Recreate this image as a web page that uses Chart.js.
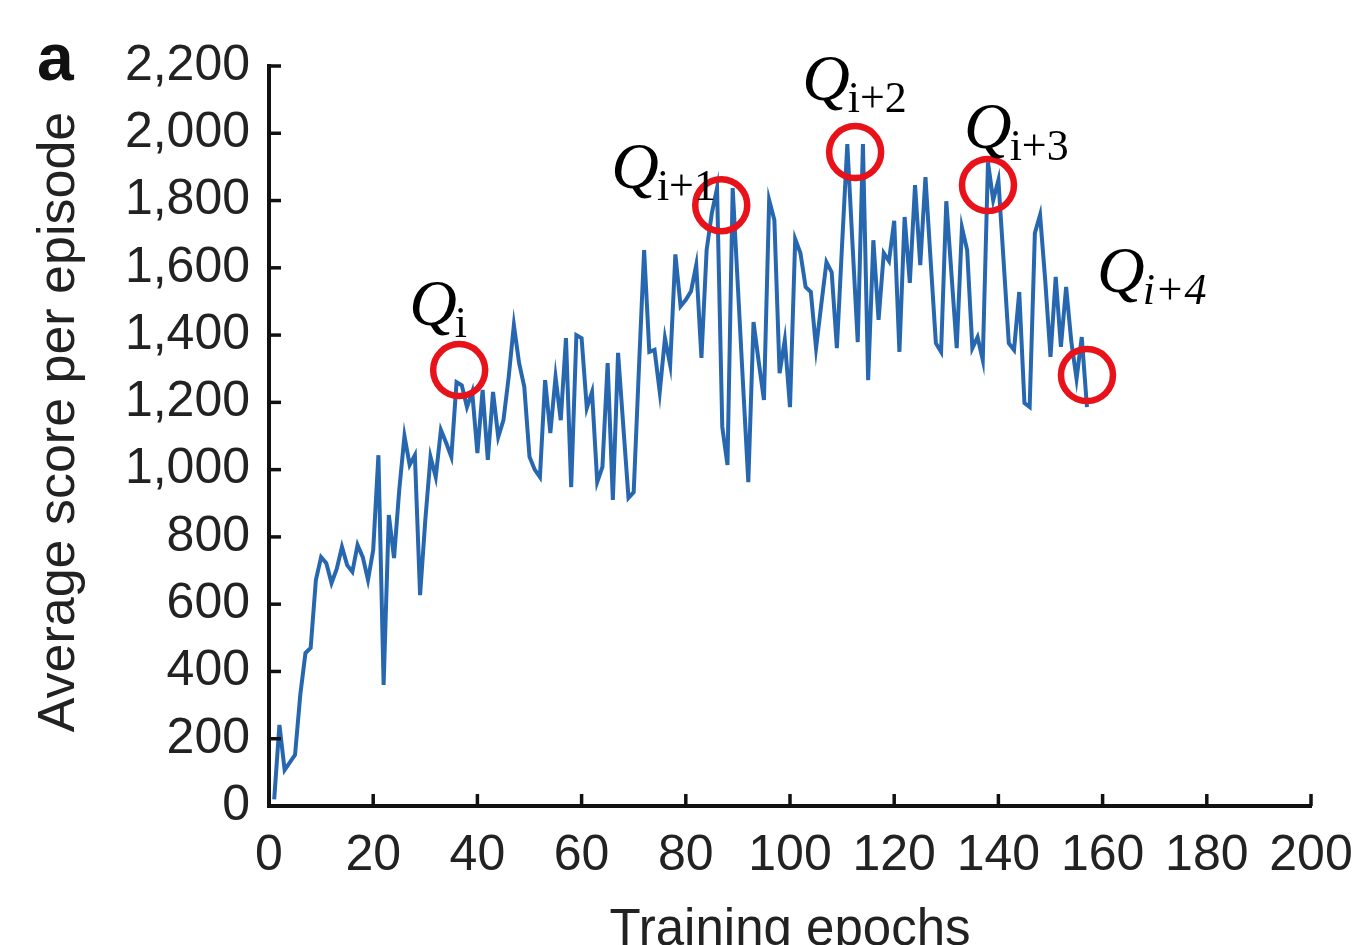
<!DOCTYPE html>
<html>
<head>
<meta charset="utf-8">
<script src="https://cdn.jsdelivr.net/npm/chart.js@4/dist/chart.umd.min.js"></script>
<style>
  html, body { margin: 0; padding: 0; background: #ffffff; }
  #wrap { position: relative; width: 1361px; height: 945px; }
</style>
</head>
<body>
<div id="wrap"><canvas id="c" width="1361" height="945"></canvas></div>
<script>
// ---- data ----
const scores = [
  20, 241, 107, 130, 152, 330, 455, 470, 672, 740,
  722, 663, 705, 770, 716, 696, 776, 740, 672, 761,
  1043, 360, 865, 737, 940, 1100, 1014, 1043, 627, 850,
  1038, 978, 1118, 1080, 1038, 1260, 1251, 1186, 1231, 1049,
  1237, 1029, 1231, 1097, 1147, 1275, 1430, 1317, 1246, 1038,
  1000, 978, 1266, 1109, 1275, 1147, 1391, 948, 1400, 1391,
  1183, 1231, 963, 1008, 1317, 910, 1347, 1130, 916, 933,
  1300, 1653, 1350, 1356, 1231, 1391, 1311, 1640, 1486, 1505,
  1530, 1608, 1332, 1653, 1763, 1837, 1127, 1014, 1837, 1543,
  1250, 963, 1439, 1320, 1207, 1801, 1742, 1287, 1385, 1186,
  1685, 1644, 1543, 1528, 1361, 1490, 1617, 1587, 1361, 1670,
  1968, 1670, 1379, 1968, 1266, 1682, 1445, 1644, 1620, 1740,
  1350, 1751, 1555, 1846, 1608, 1870, 1620, 1376, 1350, 1798,
  1580, 1361, 1720, 1653, 1361, 1394, 1326, 1914, 1801, 1861,
  1620, 1376, 1356, 1528, 1198, 1186, 1703, 1757, 1560, 1335,
  1573, 1365, 1543, 1380, 1270, 1394, 1186
];
const epochs = scores.map((_, i) => i + 1);

const xTicks = [0, 20, 40, 60, 80, 100, 120, 140, 160, 180, 200];
const yTicks = [0, 200, 400, 600, 800, 1000, 1200, 1400, 1600, 1800, 2000, 2200];

// highlighted Q-function snapshots (epoch, score) and their labels
const markEpochs = [36.5, 86.8, 112.5, 138.0, 157.0];
const markScores = [1296, 1786, 1944, 1846, 1281];
const markSubs   = ['i', 'i+1', 'i+2', 'i+3', 'i+4'];

const xTitle = 'Training epochs';
const yTitle = 'Average score per episode';
const panelLetter = 'a';

// ---- styling (kept out of the data arrays) ----
const FONT = "'Liberation Sans', Arial, Helvetica, sans-serif";
const SERIF = "'Liberation Serif', 'Times New Roman', serif";
const labelOffsets = [[-50, -45], [-110, -17], [-53, -52], [-24, -37], [10, -83]];
const subItalic = [false, false, false, false, true];

const inwardTicks = {
  id: 'inwardTicks',
  afterDatasetsDraw(chart) {
    const {ctx, chartArea, scales} = chart;
    ctx.save();
    ctx.strokeStyle = '#111';
    ctx.lineWidth = 3.5;
    ctx.lineCap = 'butt';
    xTicks.forEach(v => {
      const px = scales.x.getPixelForValue(v);
      ctx.beginPath();
      ctx.moveTo(px, chartArea.bottom);
      ctx.lineTo(px, chartArea.bottom - 12);
      ctx.stroke();
    });
    yTicks.forEach(v => {
      const py = scales.y.getPixelForValue(v);
      ctx.beginPath();
      ctx.moveTo(chartArea.left, py);
      ctx.lineTo(chartArea.left + 12, py);
      ctx.stroke();
    });
    ctx.restore();
  }
};

const annotations = {
  id: 'annotations',
  afterDraw(chart) {
    const {ctx, scales, chartArea} = chart;
    ctx.save();
    markEpochs.forEach((e, i) => {
      const cx = scales.x.getPixelForValue(e);
      const cy = scales.y.getPixelForValue(markScores[i]);
      ctx.beginPath();
      ctx.strokeStyle = '#e8121a';
      ctx.lineWidth = 6.5;
      ctx.arc(cx, cy, 26, 0, Math.PI * 2);
      ctx.stroke();
      const lx = cx + labelOffsets[i][0];
      const ly = cy + labelOffsets[i][1];
      ctx.fillStyle = '#000';
      ctx.textBaseline = 'alphabetic';
      ctx.textAlign = 'left';
      ctx.font = "italic 66px " + SERIF;
      ctx.fillText('Q', lx, ly);
      const qw = ctx.measureText('Q').width;
      ctx.font = (subItalic[i] ? 'italic ' : '') + "44px " + SERIF;
      ctx.fillText(markSubs[i], lx + qw - 2, ly + 12);
    });
    // y-axis title
    ctx.save();
    ctx.translate(60, (chartArea.top + chartArea.bottom) / 2 - 14);
    ctx.rotate(-Math.PI / 2);
    ctx.fillStyle = '#222';
    ctx.font = "52px " + FONT;
    ctx.textAlign = 'center';
    ctx.textBaseline = 'middle';
    ctx.fillText(yTitle, 0, 0);
    ctx.restore();
    // panel letter
    ctx.fillStyle = '#111';
    ctx.font = "bold 66px " + FONT;
    ctx.textBaseline = 'alphabetic';
    ctx.textAlign = 'left';
    ctx.fillText(panelLetter, 37, 80);
    ctx.restore();
  }
};

new Chart(document.getElementById('c'), {
  type: 'line',
  data: {
    datasets: [{
      data: epochs.map((e, i) => ({x: e, y: scores[i]})),
      borderColor: '#2767b0',
      borderWidth: 4,
      pointRadius: 0,
      tension: 0,
      fill: false
    }]
  },
  options: {
    responsive: false,
    animation: false,
    events: [],
    layout: { padding: { top: 66, right: 50, left: 0, bottom: 0 } },
    plugins: { legend: { display: false }, tooltip: { enabled: false } },
    scales: {
      x: {
        type: 'linear',
        min: 0, max: 200,
        afterFit(scale) { scale.height = 139; scale.paddingRight = 0; scale.paddingLeft = 0; },
        afterBuildTicks(scale) { scale.ticks = xTicks.map(v => ({value: v})); },
        border: { display: true, color: '#111', width: 4 },
        grid: { display: false, drawTicks: false },
        ticks: {
          autoSkip: false, maxRotation: 0, minRotation: 0,
          padding: 20, color: '#222',
          font: { family: FONT, size: 50 },
          callback: v => String(v)
        },
        title: {
          display: true, text: xTitle, color: '#222',
          font: { family: FONT, size: 51, lineHeight: 0.55 },
          padding: { top: 0, bottom: 0 }
        }
      },
      y: {
        type: 'linear',
        min: 0, max: 2200,
        afterFit(scale) { scale.width = 269; scale.paddingTop = 0; scale.paddingBottom = 0; },
        afterBuildTicks(scale) { scale.ticks = yTicks.map(v => ({value: v})); },
        border: { display: true, color: '#111', width: 4 },
        grid: { display: false, drawTicks: false },
        ticks: {
          autoSkip: false, padding: 19, color: '#222',
          font: { family: FONT, size: 50 },
          callback: v => Number(v).toLocaleString('en-US')
        },
        title: { display: false }
      }
    }
  },
  plugins: [inwardTicks, annotations]
});
</script>
</body>
</html>
